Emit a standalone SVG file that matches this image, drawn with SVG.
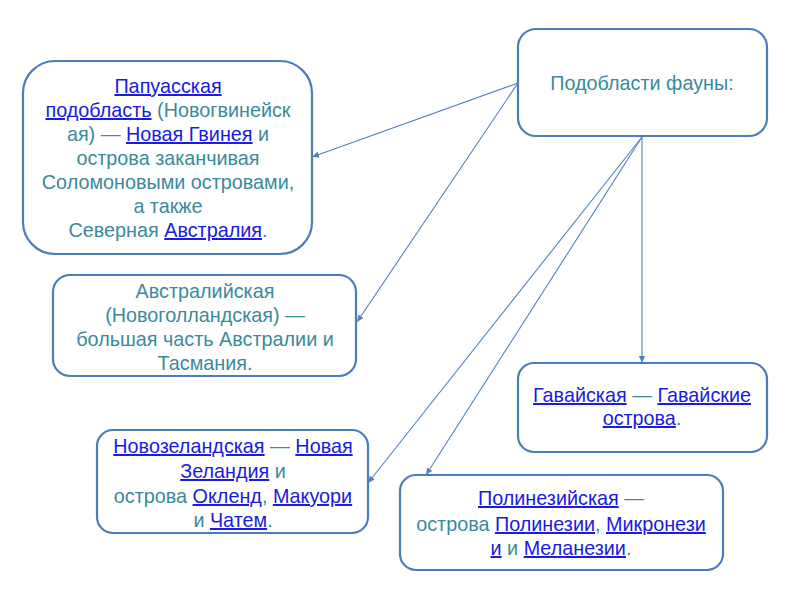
<svg xmlns="http://www.w3.org/2000/svg" width="800" height="600" viewBox="0 0 800 600">
<defs>
<marker id="ah" viewBox="0 0 8 8" refX="8" refY="4" markerWidth="7" markerHeight="7" markerUnits="userSpaceOnUse" orient="auto">
<path d="M0,0.5 L8,4 L0,7.5 z" fill="#4f81bd"/>
</marker>
<style>
.box{fill:#ffffff;stroke:#4a7ebb;stroke-width:2.2}
.t{font-family:"Liberation Sans",Arial,sans-serif;font-size:19.8px;fill:#3a8a9c;text-anchor:middle}
.l{fill:#1a1ae0;text-decoration:underline}
.c{stroke:#4f81bd;stroke-width:1.1;fill:none;marker-end:url(#ah)}
</style>
</defs>
<rect width="800" height="600" fill="#ffffff"/>
<g id="n-papua">
<rect class="box" x="23" y="61" width="289" height="193" rx="32"/>
<text class="t" x="168" y="93"><tspan class="l">Папуасская</tspan></text>
<text class="t" x="168" y="117"><tspan class="l">подобласть</tspan> (Новогвинейск</text>
<text class="t" x="168" y="141">ая) — <tspan class="l">Новая Гвинея</tspan> и</text>
<text class="t" x="168" y="165">острова заканчивая</text>
<text class="t" x="168" y="189">Соломоновыми островами,</text>
<text class="t" x="168" y="213">а также</text>
<text class="t" x="168" y="237">Северная <tspan class="l">Австралия</tspan>.</text>
</g>
<g id="n-austral">
<rect class="box" x="53" y="275" width="303" height="101" rx="17"/>
<text class="t" x="205" y="298">Австралийская</text>
<text class="t" x="205" y="322">(Новоголландская) —</text>
<text class="t" x="205" y="346">большая часть Австралии и</text>
<text class="t" x="205" y="370">Тасмания.</text>
</g>
<g id="n-root">
<rect class="box" x="518" y="29" width="249" height="107" rx="18"/>
<text class="t" x="642" y="90">Подобласти фауны:</text>
</g>
<g id="n-hawaii">
<rect class="box" x="518" y="363" width="249" height="89" rx="16"/>
<text class="t" x="642" y="402"><tspan class="l">Гавайская</tspan> — <tspan class="l">Гавайские</tspan></text>
<text class="t" x="642" y="425"><tspan class="l">острова</tspan>.</text>
</g>
<g id="n-nz">
<rect class="box" x="97" y="430" width="271" height="103" rx="16"/>
<text class="t" x="233" y="453"><tspan class="l">Новозеландская</tspan> — <tspan class="l">Новая</tspan></text>
<text class="t" x="233" y="478"><tspan class="l">Зеландия</tspan> и</text>
<text class="t" x="233" y="503">острова <tspan class="l">Окленд</tspan>, <tspan class="l">Макуори</tspan></text>
<text class="t" x="233" y="527">и <tspan class="l">Чатем</tspan>.</text>
</g>
<g id="n-poly">
<rect class="box" x="400" y="475" width="323" height="95" rx="16"/>
<text class="t" x="561" y="505"><tspan class="l">Полинезийская</tspan> —</text>
<text class="t" x="561" y="531">острова <tspan class="l">Полинезии</tspan>, <tspan class="l">Микронези</tspan></text>
<text class="t" x="561" y="555"><tspan class="l">и</tspan> и <tspan class="l">Меланезии</tspan>.</text>
</g>
<g id="connectors">
<line class="c" x1="518" y1="83" x2="312" y2="157"/>
<line class="c" x1="518" y1="83" x2="357" y2="322"/>
<line class="c" x1="642" y1="137" x2="642" y2="363"/>
<line class="c" x1="642" y1="137" x2="368" y2="483"/>
<line class="c" x1="642" y1="137" x2="426" y2="475"/>
</g>
</svg>
